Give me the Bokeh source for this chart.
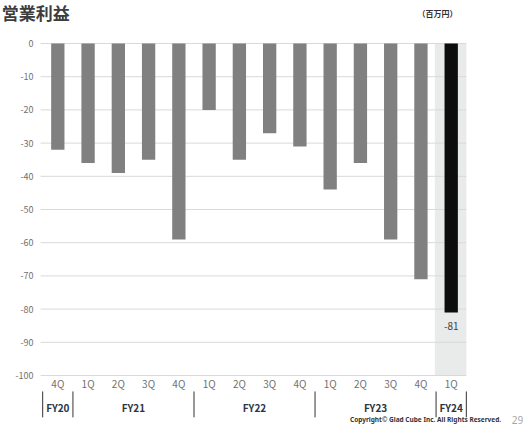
from bokeh.plotting import figure
from bokeh.models import Range1d, ColumnDataSource
from bokeh.core.properties import value
from bokeh.embed import file_html
from bokeh.resources import INLINE

# ---- data ----
quarters = ["4Q", "1Q", "2Q", "3Q", "4Q", "1Q", "2Q", "3Q", "4Q", "1Q", "2Q", "3Q", "4Q", "1Q"]
fiscal_years = ["FY20", "FY21", "FY22", "FY23", "FY24"]
fy_counts = [1, 4, 4, 4, 1]
operating_income = [-32, -36, -39, -35, -59, -20, -35, -27, -31, -44, -36, -59, -71, -81]
y_ticks = [0, -10, -20, -30, -40, -50, -60, -70, -80, -90, -100]
title_text = "営業利益"
unit_text = "（百万円）"
copyright_text = "Copyright© Glad Cube Inc. All Rights Reserved."
page_no = "29"

W, H = 523, 435
FONT = "Noto Sans CJK JP"

n = len(quarters)
idx = list(range(n))

p = figure(width=W, height=H, output_backend="svg", toolbar_location=None,
           x_range=Range1d(-1.894, 15.389), y_range=Range1d(-118.07, 12.95),
           min_border=0, min_border_left=0, min_border_right=0,
           min_border_top=0, min_border_bottom=0)
p.axis.visible = False
p.xgrid.visible = False
p.ygrid.visible = False
p.outline_line_color = None
p.background_fill_color = "white"
p.border_fill_color = "white"

# highlight band behind latest quarter
last = n - 1
p.quad(left=[last - 0.54], right=[last + 0.5], top=[0], bottom=[min(y_ticks)],
       fill_color="#e9eaea", line_color=None)

# gridlines
p.segment(x0=[-0.57] * len(y_ticks), x1=[n - 0.5] * len(y_ticks), y0=y_ticks, y1=y_ticks,
          line_color="#d9d9d9", line_width=1)

# bars
colors = ["#808080"] * (n - 1) + ["#0d0d0d"]
src = ColumnDataSource(dict(x=idx, top=[0] * n, bottom=operating_income, color=colors))
p.vbar(x="x", width=0.44, top="top", bottom="bottom", fill_color="color", line_color=None, source=src)

# value label for latest
p.text(x=[last], y=[operating_income[last]], text=[str(operating_income[last])],
       text_align="center", text_baseline="middle", y_offset=14,
       text_font=value(FONT), text_font_size="10px", text_color="#404040")

# y tick labels
p.text(x=[-0.8] * len(y_ticks), y=y_ticks, text=[str(t) for t in y_ticks],
       text_align="right", text_baseline="middle",
       text_font=value(FONT), text_font_size="9px", text_color="#707070")

# quarter labels
p.text(x=idx, y=[-102.4] * n, text=quarters, text_align="center", text_baseline="middle",
       text_font=value(FONT), text_font_size="10px", text_color="#707070")

# fiscal-year group labels and separators
bounds = [-0.5]
for c in fy_counts:
    bounds.append(bounds[-1] + c)
centers = [(bounds[i] + bounds[i + 1]) / 2 for i in range(len(fy_counts))]
p.text(x=centers, y=[-109.6] * len(centers), text=fiscal_years, text_align="center",
       text_baseline="middle", text_font=value(FONT), text_font_size="10px",
       text_font_style="bold", text_color="#2b3645")
p.segment(x0=bounds, x1=bounds, y0=[-104.8] * len(bounds), y1=[-112.6] * len(bounds),
          line_color="#333333", line_width=1)

# title & unit
p.text(x=[-1.85], y=[9.4], text=[title_text], text_align="left", text_baseline="middle",
       text_font=value(FONT), text_font_size="17px", text_font_style="bold", text_color="#3d3d3d")
p.text(x=[12.55], y=[9.0], text=[unit_text], text_align="center", text_baseline="middle",
       text_font=value(FONT), text_font_size="8px", text_font_style="bold", text_color="#333333")

# footer
p.text(x=[14.65], y=[-113.4], text=[copyright_text], text_align="right", text_baseline="middle",
       text_font=value("Noto Sans"), text_font_size="6.5px", text_font_style="bold", text_color="#333333")
p.text(x=[15.19], y=[-113.4], text=[page_no], text_align="center", text_baseline="middle",
       text_font=value("Noto Sans"), text_font_size="10px", text_color="#a6a6a6")

open("out.html", "w").write(file_html(p, INLINE))
